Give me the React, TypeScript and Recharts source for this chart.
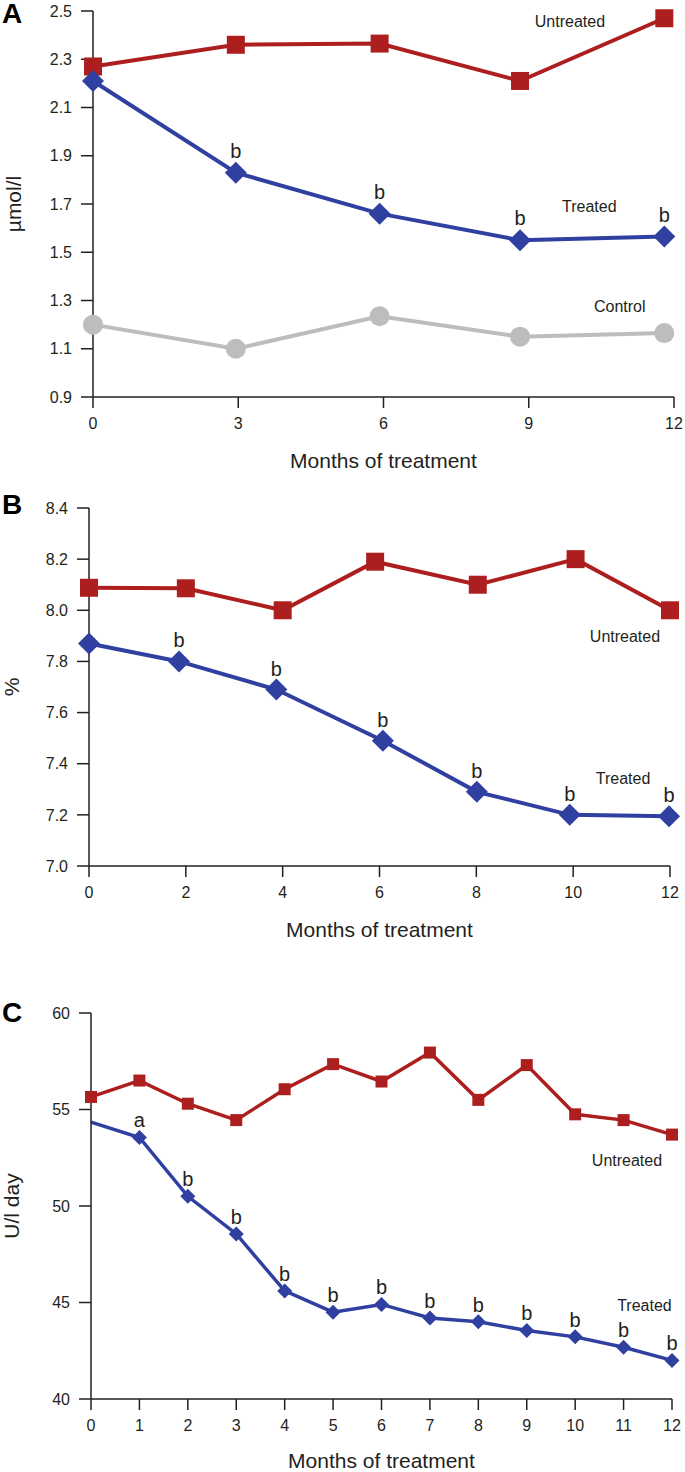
import React from 'react';
import { LineChart, Line, XAxis, YAxis, LabelList, ReferenceDot } from 'recharts';

const RED = '#ad1f1f';
const BLUE = '#3040a0';
const GREY = '#bdbdbd';
const INK = '#231f20';
const FONT = '"Liberation Sans", Arial, Helvetica, sans-serif';

// Panel A: µmol/l
const monthsA = [0, 2.95, 5.92, 8.82, 11.8];
const untreatedA = [2.27, 2.36, 2.365, 2.21, 2.47];
const treatedA = [2.21, 1.83, 1.66, 1.55, 1.565];
const controlA = [1.2, 1.1, 1.235, 1.15, 1.165];
const sigA = ['', 'b', 'b', 'b', 'b'];
const xTicksA = [0, 3, 6, 9, 12];
const yTicksA = [0.9, 1.1, 1.3, 1.5, 1.7, 1.9, 2.1, 2.3, 2.5];

// Panel B: %
const monthsUntreatedB = [0, 2, 4, 5.91, 8.03, 10.05, 12];
const monthsTreatedB = [0, 1.86, 3.87, 6.07, 8.01, 9.93, 11.98];
const untreatedB = [8.088, 8.086, 8.0, 8.19, 8.1, 8.2, 8.0];
const treatedB = [7.87, 7.8, 7.69, 7.49, 7.29, 7.2, 7.195];
const sigB = ['', 'b', 'b', 'b', 'b', 'b', 'b'];
const xTicksB = [0, 2, 4, 6, 8, 10, 12];
const yTicksB = [7.0, 7.2, 7.4, 7.6, 7.8, 8.0, 8.2, 8.4];

// Panel C: U/l day
const monthsC = [0, 1, 2, 3, 4, 5, 6, 7, 8, 9, 10, 11, 12];
const untreatedC = [55.65, 56.5, 55.3, 54.45, 56.05, 57.35, 56.45, 57.95, 55.5, 57.3, 54.75, 54.45, 53.7];
const treatedC = [54.35, 53.55, 50.5, 48.55, 45.6, 44.5, 44.9, 44.2, 44.0, 43.55, 43.22, 42.68, 42.0];
const sigC = ['', 'a', 'b', 'b', 'b', 'b', 'b', 'b', 'b', 'b', 'b', 'b', 'b'];
const yTicksC = [40, 45, 50, 55, 60];

// series name annotations (data units)
const namesA = [
  { text: 'Untreated', m: 9.85, v: 2.457 },
  { text: 'Treated', m: 10.25, v: 1.69 },
  { text: 'Control', m: 10.88, v: 1.275 },
];
const namesB = [
  { text: 'Untreated', m: 11.07, v: 7.9 },
  { text: 'Treated', m: 11.03, v: 7.342 },
];
const namesC = [
  { text: 'Untreated', m: 11.07, v: 52.38 },
  { text: 'Treated', m: 11.43, v: 44.84 },
];

const rows = (xs: number[], ys: number[], sig?: string[]) =>
  xs.map((m, i) => ({ m, v: ys[i], sig: sig ? sig[i] : '' }));

const square = (size: number, color: string) => (p: any) => (
  <rect key={`s-${p.index}`} x={p.cx - size / 2} y={p.cy - size / 2} width={size} height={size} fill={color} />
);

const diamond = (half: number, color: string, skipFirst = false) => (p: any) => {
  if (skipFirst && p.index === 0) return <g key={`d-${p.index}`} />;
  const { cx, cy } = p;
  return (
    <polygon
      key={`d-${p.index}`}
      points={`${cx},${cy - half} ${cx + half},${cy} ${cx},${cy + half} ${cx - half},${cy}`}
      fill={color}
    />
  );
};

const circle = (r: number, color: string) => (p: any) => (
  <circle key={`c-${p.index}`} cx={p.cx} cy={p.cy} r={r} fill={color} />
);

const axisStroke = { stroke: INK, strokeWidth: 1.5 };

const xAxis = (ticks: number[], labelOffset: number, height: number) => (
  <XAxis
    type="number"
    dataKey="m"
    domain={[0, 12]}
    ticks={ticks}
    interval={0}
    height={height}
    tickSize={11}
    tickMargin={10}
    axisLine={axisStroke}
    tickLine={axisStroke}
    tick={{ fill: INK, fontSize: 16 }}
    label={{ value: 'Months of treatment', position: 'insideBottom', offset: labelOffset, fill: INK, fontSize: 21 }}
  />
);

const yAxis = (domain: number[], ticks: number[], width: number, title: string, offset: number, digits: number) => (
  <YAxis
    type="number"
    domain={domain}
    ticks={ticks}
    interval={0}
    width={width}
    tickSize={12}
    tickMargin={9}
    axisLine={axisStroke}
    tickLine={axisStroke}
    tick={{ fill: INK, fontSize: 16 }}
    tickFormatter={(v: number) => v.toFixed(digits)}
    label={{
      value: title,
      angle: -90,
      position: 'insideLeft',
      offset,
      fill: INK,
      fontSize: 21,
      style: { textAnchor: 'middle' },
    }}
  />
);

const names = (list: { text: string; m: number; v: number }[]) =>
  list.map((n) => (
    <ReferenceDot
      key={n.text}
      x={n.m}
      y={n.v}
      r={0}
      fill="none"
      stroke="none"
      label={{ value: n.text, position: 'center', fill: INK, fontSize: 16 }}
    />
  ));

const letter = (ch: string, top: number) => (
  <div
    style={{
      position: 'absolute',
      left: 2,
      top,
      fontSize: 28,
      lineHeight: '28px',
      fontWeight: 'bold',
      color: '#000',
    }}
  >
    {ch}
  </div>
);

export default function App() {
  return (
    <div
      style={{
        position: 'absolute',
        left: 0,
        top: 0,
        width: 685,
        height: 1472,
        background: '#fff',
        fontFamily: FONT,
      }}
    >
      <div style={{ position: 'absolute', left: 0, top: 0 }}>
        <LineChart width={685} height={480} margin={{ top: 11, right: 11, left: 0, bottom: 0 }}>
          {xAxis(xTicksA, 12, 83)}
          {yAxis([0.9, 2.5], yTicksA, 93, 'µmol/l', 14, 1)}
          <Line
            data={rows(monthsA, controlA)}
            dataKey="v"
            name="Control"
            stroke={GREY}
            strokeWidth={4}
            dot={circle(10, GREY)}
            isAnimationActive={false}
          />
          <Line
            data={rows(monthsA, untreatedA)}
            dataKey="v"
            name="Untreated"
            stroke={RED}
            strokeWidth={4}
            dot={square(18, RED)}
            isAnimationActive={false}
          />
          <Line
            data={rows(monthsA, treatedA, sigA)}
            dataKey="v"
            name="Treated"
            stroke={BLUE}
            strokeWidth={4}
            dot={diamond(11, BLUE)}
            isAnimationActive={false}
          >
            <LabelList dataKey="sig" position="top" offset={15} fill={INK} fontSize={20} />
          </Line>
          {names(namesA)}
        </LineChart>
      </div>

      <div style={{ position: 'absolute', left: 0, top: 480 }}>
        <LineChart width={685} height={480} margin={{ top: 28, right: 15, left: 0, bottom: 0 }}>
          {xAxis(xTicksB, 23, 94)}
          {yAxis([7.0, 8.4], yTicksB, 89, '%', 12, 1)}
          <Line
            data={rows(monthsUntreatedB, untreatedB)}
            dataKey="v"
            name="Untreated"
            stroke={RED}
            strokeWidth={4}
            dot={square(18, RED)}
            isAnimationActive={false}
          />
          <Line
            data={rows(monthsTreatedB, treatedB, sigB)}
            dataKey="v"
            name="Treated"
            stroke={BLUE}
            strokeWidth={4}
            dot={diamond(11, BLUE)}
            isAnimationActive={false}
          >
            <LabelList dataKey="sig" position="top" offset={14} fill={INK} fontSize={20} />
          </Line>
          {names(namesB)}
        </LineChart>
      </div>

      <div style={{ position: 'absolute', left: 0, top: 990 }}>
        <LineChart width={685} height={482} margin={{ top: 23, right: 13, left: 0, bottom: 0 }}>
          {xAxis(monthsC, 4, 73)}
          {yAxis([40, 60], yTicksC, 91, 'U/l day', 12, 0)}
          <Line
            data={rows(monthsC, untreatedC)}
            dataKey="v"
            name="Untreated"
            stroke={RED}
            strokeWidth={3.5}
            dot={square(12, RED)}
            isAnimationActive={false}
          />
          <Line
            data={rows(monthsC, treatedC, sigC)}
            dataKey="v"
            name="Treated"
            stroke={BLUE}
            strokeWidth={3.5}
            dot={diamond(7.5, BLUE, true)}
            isAnimationActive={false}
          >
            <LabelList dataKey="sig" position="top" offset={10} fill={INK} fontSize={20} />
          </Line>
          {names(namesC)}
        </LineChart>
      </div>

      {letter('A', 0)}
      {letter('B', 491)}
      {letter('C', 999)}
    </div>
  );
}
